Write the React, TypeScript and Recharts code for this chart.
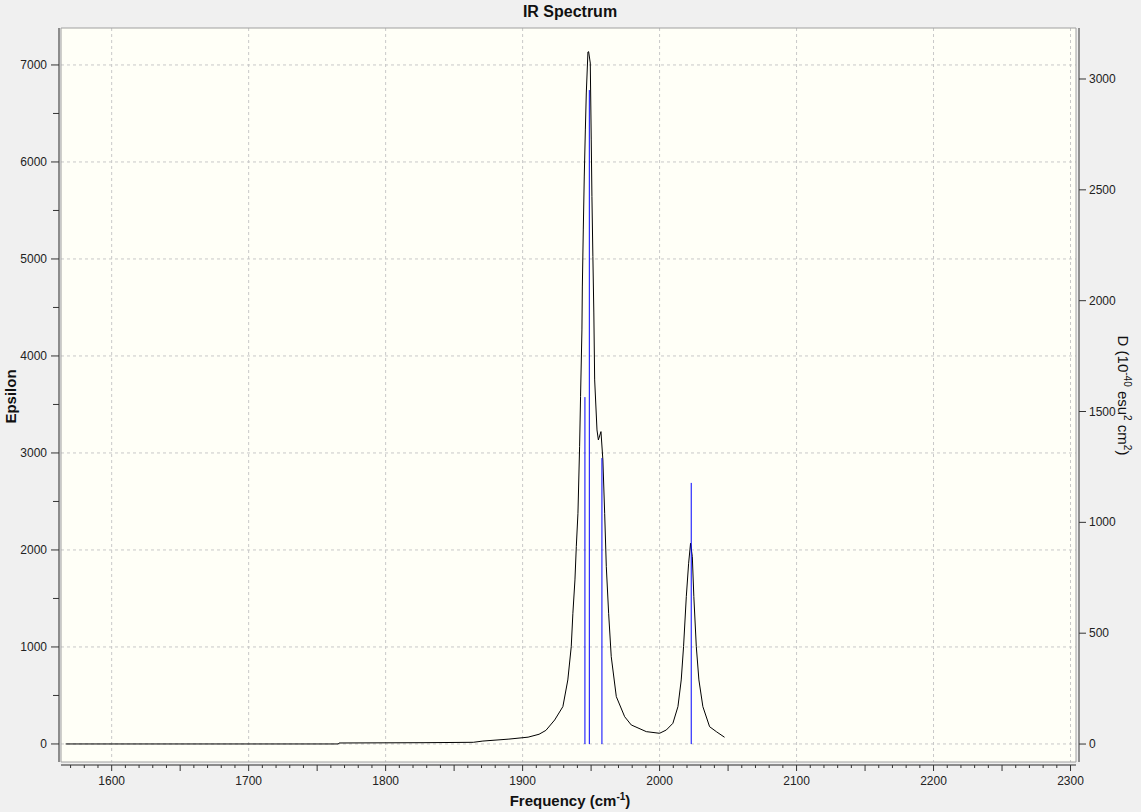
import { ComposedChart, Line, XAxis, YAxis, CartesianGrid, ReferenceArea } from 'recharts'

// broadened spectrum (cm-1 / epsilon)
const curveFreq = [
  1566.4, 1765.5, 1766, 1828, 1864, 1871, 1890, 1904, 1912, 1917, 1923.4, 1929.4, 1933, 1935.5,
  1936.7, 1938.2, 1939.2, 1940.4, 1941.6, 1942.3, 1943.3, 1943.6, 1944.3, 1945.0, 1945.8, 1946.5,
  1947.7, 1948.2, 1949.4, 1950.1, 1950.6, 1951.3, 1952, 1952.6, 1954.3, 1955.3, 1957.2, 1958.6,
  1959.9, 1961.1, 1962.8, 1964.7, 1968.4, 1974.5, 1979.3, 1990.3, 2000, 2004.9, 2009.7, 2013.4,
  2015.8, 2017.5, 2019.5, 2021.2, 2022.6, 2023.9, 2025, 2026.8, 2028.7, 2031.6, 2036.5, 2041.4,
  2047.4,
]
const curveEps = [
  0, 0, 10, 13, 17, 30, 50, 70, 100, 140, 247, 385, 660, 1003,
  1347, 1691, 2034, 2378, 3065, 3580, 4268, 4711, 5299, 5845, 6330, 6711,
  7134, 7137, 7020, 6227, 5643, 5024, 4443, 3753, 3237, 3134, 3220, 2928,
  2378, 1828, 1347, 900, 488, 281, 196, 127, 110, 144, 213, 385,
  660, 1003, 1519, 1863, 2069, 1931, 1519, 1003, 660, 385, 178, 127,
  69,
]

// stick spectrum (cm-1 / D in 10^-40 esu^2 cm^2)
const stickFreq = [1945.5, 1948.7, 1957.9, 2023.1]
const stickD = [1565, 2950, 1290, 1178]

const xLabelTicks = [1600, 1700, 1800, 1900, 2000, 2100, 2200, 2300]
const epsGridTicks = [0, 1000, 2000, 3000, 4000, 5000, 6000, 7000]
const epsTicks = [0, 500, 1000, 1500, 2000, 2500, 3000, 3500, 4000, 4500, 5000, 5500, 6000, 6500, 7000]
const dTicks = [0, 500, 1000, 1500, 2000, 2500, 3000]

const xMinorTicks: number[] = []
for (let v = 1570; v <= 2300; v += 10) xMinorTicks.push(v)

const X_DOMAIN: [number, number] = [1563, 2304]
const EPS_DOMAIN: [number, number] = [-186, 7381]
const D_DOMAIN: [number, number] = [-81, 3230]

const curveData = curveFreq.map((f, i) => ({ f, eps: curveEps[i] }))
const sticks = stickFreq.map((f, i) => [
  { f, d: 0 },
  { f, d: stickD[i] },
])

const font = '"Liberation Sans", Arial, sans-serif'
const tickColor = '#222'

const BottomTick = (props: any) => {
  const { x, y, payload } = props
  const v = payload.value
  const long = v % 50 === 0
  return (
    <g>
      <line x1={x} x2={x} y1={y + 3} y2={y + (long ? 9 : 6)} stroke="#333" />
      {v % 100 === 0 && (
        <text x={x} y={y + 23} textAnchor="middle" fontSize={12} fontFamily={font} fill={tickColor}>
          {v}
        </text>
      )}
    </g>
  )
}

const LeftTick = (props: any) => {
  const { x, y, payload } = props
  const major = payload.value % 1000 === 0
  return (
    <g>
      <line x1={x - 2} x2={x - (major ? 10 : 8)} y1={y} y2={y} stroke="#333" />
      {major && (
        <text x={x - 14} y={y + 4} textAnchor="end" fontSize={12} fontFamily={font} fill={tickColor}>
          {payload.value}
        </text>
      )}
    </g>
  )
}

const RightTick = (props: any) => {
  const { x, y, payload } = props
  return (
    <g>
      <line x1={x + 3} x2={x + 10} y1={y} y2={y} stroke="#333" />
      <text x={x + 13} y={y + 4} textAnchor="start" fontSize={12} fontFamily={font} fill={tickColor}>
        {payload.value}
      </text>
    </g>
  )
}

const sup = { fontSize: 10, position: 'relative' as const, top: -6 }

export default function App() {
  return (
    <div
      style={{
        position: 'absolute',
        left: 0,
        top: 0,
        width: 1141,
        height: 812,
        background: '#f0f0f0',
        fontFamily: font,
        color: '#111',
      }}
    >
      <ComposedChart width={1141} height={812} margin={{ top: 28, right: 0, bottom: 0, left: 0 }}>
        <CartesianGrid
          yAxisId="left"
          fill="#fffff7"
          fillOpacity={1}
          stroke="#c8c8c8"
          strokeDasharray="3 3"
          verticalValues={xLabelTicks}
          horizontalValues={epsGridTicks}
        />
        <XAxis
          dataKey="f"
          type="number"
          domain={X_DOMAIN}
          allowDataOverflow
          ticks={xMinorTicks}
          interval={0}
          height={50}
          tickSize={0}
          tickMargin={0}
          tickLine={false}
          tick={BottomTick}
          axisLine={{ stroke: '#8c8c8c', strokeWidth: 2, transform: 'translate(0 3)' }}
        />
        <YAxis
          yAxisId="left"
          domain={EPS_DOMAIN}
          allowDataOverflow
          ticks={epsTicks}
          interval={0}
          width={61}
          tickSize={0}
          tickMargin={0}
          tickLine={false}
          tick={LeftTick}
          axisLine={{ stroke: '#8c8c8c', strokeWidth: 2, transform: 'translate(-2 0)' }}
        />
        <YAxis
          yAxisId="right"
          orientation="right"
          domain={D_DOMAIN}
          allowDataOverflow
          ticks={dTicks}
          interval={0}
          width={65}
          tickSize={0}
          tickMargin={0}
          tickLine={false}
          tick={RightTick}
          axisLine={{ stroke: '#333', strokeWidth: 1, transform: 'translate(3 0)' }}
        />
        <ReferenceArea
          yAxisId="left"
          x1={X_DOMAIN[0]}
          x2={X_DOMAIN[1]}
          y1={EPS_DOMAIN[0]}
          y2={EPS_DOMAIN[1]}
          fill="none"
          stroke="#a0a0a0"
          ifOverflow="visible"
        />
        <Line
          yAxisId="left"
          data={curveData}
          dataKey="eps"
          type="linear"
          stroke="#000"
          strokeWidth={1}
          dot={false}
          activeDot={false}
          isAnimationActive={false}
        />
        {sticks.map((s, i) => (
          <Line
            key={i}
            yAxisId="right"
            data={s}
            dataKey="d"
            type="linear"
            stroke="#0000ff"
            strokeWidth={1}
            dot={false}
            activeDot={false}
            isAnimationActive={false}
          />
        ))}
      </ComposedChart>

      <div
        style={{
          position: 'absolute',
          left: 420,
          top: 3,
          width: 300,
          textAlign: 'center',
          fontWeight: 'bold',
          fontSize: 16,
          lineHeight: '18px',
        }}
      >
        IR Spectrum
      </div>
      <div
        style={{
          position: 'absolute',
          left: 420,
          top: 792,
          width: 300,
          textAlign: 'center',
          fontWeight: 'bold',
          fontSize: 15,
          lineHeight: '17px',
        }}
      >
        Frequency (cm<span style={sup}>-1</span>)
      </div>
      <div
        style={{
          position: 'absolute',
          left: -40,
          top: 388,
          width: 100,
          height: 17,
          textAlign: 'center',
          fontWeight: 'bold',
          fontSize: 15,
          lineHeight: '17px',
          transform: 'rotate(-90deg)',
        }}
      >
        Epsilon
      </div>
      <div
        style={{
          position: 'absolute',
          left: 1023,
          top: 387,
          width: 200,
          height: 17,
          textAlign: 'center',
          fontSize: 15,
          lineHeight: '17px',
          transform: 'rotate(90deg)',
          whiteSpace: 'nowrap',
        }}
      >
        D (10<span style={sup}>-40</span> esu<span style={sup}>2</span> cm<span style={sup}>2</span>)
      </div>
    </div>
  )
}
